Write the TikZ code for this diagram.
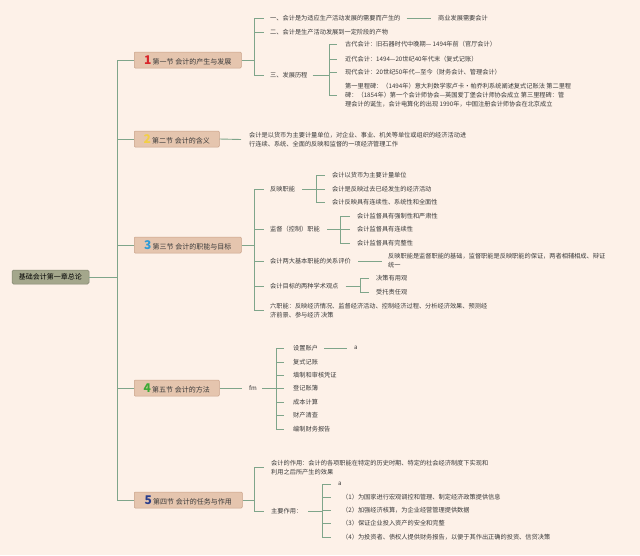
\documentclass[tikz,border=0pt]{standalone}
\usepackage{fontspec}
\setmainfont{Noto Sans CJK SC}
\definecolor{bgc}{HTML}{FDF1E8}
\definecolor{linec}{HTML}{7FA58A}
\definecolor{textc}{HTML}{3A3A3A}
\definecolor{boxc}{HTML}{E5C5AE}
\definecolor{boxd}{HTML}{C9A289}
\definecolor{rootc}{HTML}{A4A78C}
\definecolor{rootd}{HTML}{80846F}
\definecolor{nA}{HTML}{D9262B}
\definecolor{nB}{HTML}{F2CF45}
\definecolor{nC}{HTML}{2E9BD6}
\definecolor{nD}{HTML}{3BAA35}
\definecolor{nE}{HTML}{2A3E8C}
\begin{document}
\begin{tikzpicture}[x=1pt,y=-1pt,
  conn/.style={draw=linec, line width=0.9pt},
  txt/.style={anchor=west, inner sep=0pt, font=\fontsize{6.2}{9}\selectfont, text=textc, align=left},
  sect/.style={anchor=west, draw=boxd, fill=boxc, line width=0.5pt, rounded corners=1pt, minimum height=16pt, inner sep=0pt, font=\fontsize{7}{8}\selectfont, text=textc},
  rootbox/.style={draw=rootd, fill=rootc, line width=0.5pt, rounded corners=1.5pt, minimum width=77pt, minimum height=14pt, inner sep=0pt, font=\fontsize{7}{8}\selectfont, text=black}]
\fill[bgc] (0,0) rectangle (640,555);
\useasboundingbox (0,0) rectangle (640,555);
\newcommand{\bignum}[2]{\textcolor{#1}{\fontsize{12}{12}\selectfont\bfseries #2}\,}
% root and sections
\node[rootbox] (root) at (50.5,277) {基础会计第一章总论};
\node[sect, minimum width=107pt] (s1) at (134,60) {\bignum{nA}{1}第一节 会计的产生与发展};
\node[sect, minimum width=85pt] (s2) at (134,139) {\bignum{nB}{2}第二节 会计的含义};
\node[sect, minimum width=107pt] (s3) at (134,245) {\bignum{nC}{3}第三节 会计的职能与目标};
\node[sect, minimum width=85pt] (s4) at (134,388) {\bignum{nD}{4}第五节 会计的方法};
\node[sect, minimum width=108pt] (s5) at (134,500) {\bignum{nE}{5}第四节 会计的任务与作用};
\coordinate (tr) at (117,277);
\draw[conn] (root.east) -- (tr);
\foreach \s in {s1,s2,s3,s4,s5} \draw[conn] (tr) |- (\s.west);
% section 1
\node[txt] (a1) at (270,18) {一、会计是为适应生产活动发展的需要而产生的};
\node[txt] (a2) at (270,32) {二、会计是生产活动发展到一定阶段的产物};
\node[txt] (a3) at (270,75) {三、发展历程};
\node[txt] (a1x) at (438,18) {商业发展需要会计};
\coordinate (k1) at (254,60);
\draw[conn] (s1.east) -- (k1);
\foreach \n in {a1,a2,a3} \draw[conn] (k1) |- ([xshift=-6pt]\n.west);
\draw[conn] ([xshift=6pt]a1.east) -- ([xshift=-7pt]a1x.west);
\node[txt] (g1) at (345,44) {古代会计：旧石器时代中晚期— 1494年前（官厅会计）};
\node[txt] (g2) at (345,59) {近代会计：1494—20世纪40年代末（复式记账）};
\node[txt] (g3) at (345,72) {现代会计：20世纪50年代—至今（财务会计、管理会计）};
\node[txt] (g4) at (345,95) {第一里程碑：（1494年）意大利数学家卢卡•帕乔利系统阐述复式记账法 第二里程\\碑：（1854年）第一个会计师协会—英国爱丁堡会计师协会成立 第三里程碑：管\\理会计的诞生，会计电算化的出现 1990年，中国注册会计师协会在北京成立};
\coordinate (k13) at (329,75);
\draw[conn] ([xshift=5pt]a3.east) -- (k13);
\foreach \n in {g1,g2,g3,g4} \draw[conn] (k13) |- ([xshift=-8pt]\n.west);
% section 2
\node[txt] (b1) at (249,139.5) {会计是以货币为主要计量单位，对企业、事业、机关等单位或组织的经济活动进\\行连续、系统、全面的反映和监督的一项经济管理工作};
\draw[conn] (s2.east) -- ([xshift=-8pt]b1.west);
% section 3
\node[txt] (c1) at (270,189) {反映职能};
\node[txt] (c2) at (270,229) {监督（控制）职能};
\node[txt] (c3) at (270,261) {会计两大基本职能的关系评价};
\node[txt] (c4) at (270,286) {会计目标的两种学术观点};
\node[txt] (c5) at (270,310.5) {六职能：反映经济情况、监督经济活动、控制经济过程、分析经济效果、预测经\\济前景、参与经济 决策};
\coordinate (k3) at (254,245);
\draw[conn] (s3.east) -- (k3);
\foreach \n in {c1,c2,c3,c4,c5} \draw[conn] (k3) |- ([xshift=-6pt]\n.west);
\node[txt] (d1) at (332,175) {会计以货币为主要计量单位};
\node[txt] (d2) at (332,189) {会计是反映过去已经发生的经济活动};
\node[txt] (d3) at (332,202) {会计反映具有连续性、系统性和全面性};
\coordinate (k31) at (316,189);
\draw[conn] ([xshift=7pt]c1.east) -- (k31);
\foreach \n in {d1,d2,d3} \draw[conn] (k31) |- ([xshift=-7pt]\n.west);
\node[txt] (e1) at (357,216) {会计监督具有强制性和严肃性};
\node[txt] (e2) at (357,229) {会计监督具有连续性};
\node[txt] (e3) at (357,243) {会计监督具有完整性};
\coordinate (k32) at (340,229);
\draw[conn] ([xshift=7pt]c2.east) -- (k32);
\foreach \n in {e1,e2,e3} \draw[conn] (k32) |- ([xshift=-7pt]\n.west);
\node[txt] (f1) at (388,261) {反映职能是监督职能的基础，监督职能是反映职能的保证，两者相辅相成、辩证\\统一};
\draw[conn] ([xshift=7pt]c3.east) -- ([xshift=-6pt]f1.west);
\node[txt] (h1) at (376,278) {决策有用观};
\node[txt] (h2) at (376,292) {受托责任观};
\coordinate (k34) at (360,286);
\draw[conn] ([xshift=7pt]c4.east) -- (k34);
\foreach \n in {h1,h2} \draw[conn] (k34) |- ([xshift=-7pt]\n.west);
% section 4
\node[txt] (fm) at (249,388) {fm};
\draw[conn] (s4.east) -- ([xshift=-7pt]fm.west);
\coordinate (k4) at (276,388);
\draw[conn] ([xshift=5pt]fm.east) -- (k4);
\node[txt] (i1) at (293,348) {设置账户};
\node[txt] (i2) at (293,362) {复式记账};
\node[txt] (i3) at (293,375) {填制和审核凭证};
\node[txt] (i4) at (293,388) {登记账簿};
\node[txt] (i5) at (293,402) {成本计算};
\node[txt] (i6) at (293,415) {财产清查};
\node[txt] (i7) at (293,429) {编制财务报告};
\foreach \n in {i1,i2,i3,i4,i5,i6,i7} \draw[conn] (k4) |- ([xshift=-9pt]\n.west);
\node[txt] (ia) at (354,348) {a};
\draw[conn] ([xshift=6pt]i1.east) -- ([xshift=-7pt]ia.west);
% section 5
\node[txt] (m1) at (271,467.5) {会计的作用：会计的各项职能在特定的历史时期、特定的社会经济制度下实现和\\利用之后所产生的效果};
\node[txt] (m2) at (271,511) {主要作用：};
\coordinate (k5) at (254,500);
\draw[conn] (s5.east) -- (k5);
\foreach \n in {m1,m2} \draw[conn] (k5) |- ([xshift=-7pt]\n.west);
\node[txt] (pa) at (338,484) {a};
\node[txt] (p1) at (342,497) {（1）为国家进行宏观调控和管理、制定经济政策提供信息};
\node[txt] (p2) at (342,510) {（2）加强经济核算，为企业经营管理提供数据};
\node[txt] (p3) at (342,523) {（3）保证企业投入资产的安全和完整};
\node[txt] (p4) at (342,537) {（4）为投资者、债权人提供财务报告，以便于其作出正确的投资、信贷决策};
\coordinate (k52) at (322,511);
\draw[conn] ([xshift=6pt]m2.east) -- (k52);
\draw[conn] (k52) |- ([xshift=-7pt]pa.west);
\foreach \n in {p1,p2,p3,p4} \draw[conn] (k52) |- ([xshift=-11pt]\n.west);
\end{tikzpicture}
\end{document}
